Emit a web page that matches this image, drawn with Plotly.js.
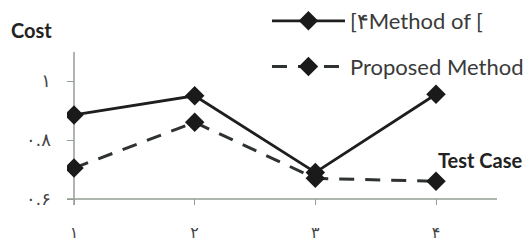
<!DOCTYPE html>
<html>
<head>
<meta charset="utf-8">
<script src="https://cdn.plot.ly/plotly-3.0.1.min.js"></script>
<style>html,body{margin:0;padding:0;background:#fff;}#chart{width:529px;height:245px;}</style>
</head>
<body>
<div id="chart"></div>
<script>
const testCases = [1, 2, 3, 4];
const xTickLabels = ['۱', '۲', '۳', '۴'];
const yTickValues = [0.6, 0.8, 1];
const yTickLabels = ['۰.۶', '۰.۸', '۱'];
const methodOf4 = [0.885, 0.95, 0.69, 0.955];
const proposedMethod = [0.705, 0.86, 0.67, 0.66];
const seriesNames = ['[۴Method of [', 'Proposed Method'];

const traces = [
  {
    x: testCases, y: methodOf4, name: seriesNames[0], legendgroup: 'a', type: 'scatter', mode: 'lines+markers',
    line: {color: '#1c1f1c', width: 2.8},
    marker: {symbol: 'diamond', size: 15, color: '#1a1a1a'}
  },
  {
    x: testCases, y: proposedMethod, name: seriesNames[1], legendgroup: 'b', type: 'scatter', mode: 'lines+markers',
    line: {color: '#2e332f', width: 3, dash: '15px,11px'},
    marker: {symbol: 'diamond', size: 15, color: '#1a1a1a'}
  }
];

const axisColor = '#959e95';
const plotTop = 52, plotBottom = 205, plotH = plotBottom - plotTop;
const layout = {
  width: 529, height: 245,
  margin: {l: 67, r: 32, t: plotTop, b: 245 - plotBottom, autoexpand: false},
  paper_bgcolor: '#fff', plot_bgcolor: '#fff',
  font: {family: 'DejaVu Sans, sans-serif', color: '#333'},
  showlegend: true,
  legend: {x: 246/529, y: 1, xref: 'paper', yref: 'container', xanchor: 'left', yanchor: 'top',
    bgcolor: 'rgba(0,0,0,0)', font: {family: 'Lato, sans-serif', size: 22, color: '#3a3a3a'},
    itemwidth: 73, tracegroupgap: 14},
  xaxis: {
    range: [1 - 7/120.67, 1 + 423/120.67], showgrid: false, zeroline: false, showline: false,
    tickmode: 'array', tickvals: testCases, ticktext: xTickLabels,
    ticks: 'inside', ticklen: 6, tickcolor: axisColor, tickwidth: 1,
    tickfont: {size: 16, color: '#444'}, ticklabelstandoff: 16, fixedrange: true
  },
  yaxis: {
    range: [0.6 - 6/295, 0.6 + 147/295], showgrid: false, zeroline: false, showline: false,
    tickmode: 'array', tickvals: yTickValues, ticktext: yTickLabels,
    ticks: 'inside', ticklen: 7, tickcolor: axisColor, tickwidth: 1,
    tickfont: {size: 18, color: '#444'}, ticklabelstandoff: 15, fixedrange: true
  },
  shapes: [
    {type: 'line', xref: 'paper', yref: 'y', x0: 0, x1: 1, y0: 0.6, y1: 0.6, line: {color: axisColor, width: 1.5}, layer: 'below'},
    {type: 'line', xref: 'x', yref: 'paper', x0: 1, x1: 1, y0: 0, y1: 1, line: {color: axisColor, width: 1.5}, layer: 'below'}
  ],
  annotations: [
    {text: '<b>Cost</b>', xref: 'paper', yref: 'paper', x: (9 - 67)/430, y: (plotBottom - 30)/plotH, xanchor: 'left', yanchor: 'middle',
      showarrow: false, font: {family: 'Lato, sans-serif', size: 20, color: '#222'}},
    {text: '<b>Test Case</b>', xref: 'paper', yref: 'paper', x: (525 - 67)/430, y: (plotBottom - 160)/plotH, xanchor: 'right', yanchor: 'middle',
      showarrow: false, font: {family: 'Lato, sans-serif', size: 20, color: '#222'}}
  ]
};

Plotly.newPlot('chart', traces, layout, {displayModeBar: false, staticPlot: true});
</script>
</body>
</html>
